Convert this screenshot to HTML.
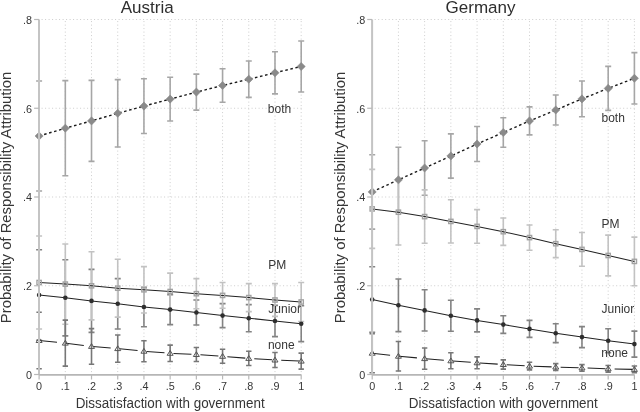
<!DOCTYPE html>
<html><head><meta charset="utf-8"><style>
html,body{margin:0;padding:0;background:#fff;}
svg{display:block;font-family:"Liberation Sans",sans-serif;filter:blur(0.3px);}
</style></head><body>
<svg width="640" height="412" viewBox="0 0 640 412">
<rect width="640" height="412" fill="#fff"/>
<line x1="41.6" y1="285.75" x2="301.7" y2="285.75" stroke="#cdcdcd" stroke-width="1" stroke-dasharray="1 2.5"/>
<line x1="41.6" y1="197" x2="301.7" y2="197" stroke="#cdcdcd" stroke-width="1" stroke-dasharray="1 2.5"/>
<line x1="41.6" y1="108.25" x2="301.7" y2="108.25" stroke="#cdcdcd" stroke-width="1" stroke-dasharray="1 2.5"/>
<line x1="41.6" y1="19.5" x2="301.7" y2="19.5" stroke="#cdcdcd" stroke-width="1" stroke-dasharray="1 2.5"/>
<line x1="65.31" y1="21.1" x2="65.31" y2="373.5" stroke="#cdcdcd" stroke-width="1" stroke-dasharray="1 2.5"/>
<line x1="91.52" y1="21.1" x2="91.52" y2="373.5" stroke="#cdcdcd" stroke-width="1" stroke-dasharray="1 2.5"/>
<line x1="117.73" y1="21.1" x2="117.73" y2="373.5" stroke="#cdcdcd" stroke-width="1" stroke-dasharray="1 2.5"/>
<line x1="143.94" y1="21.1" x2="143.94" y2="373.5" stroke="#cdcdcd" stroke-width="1" stroke-dasharray="1 2.5"/>
<line x1="170.15" y1="21.1" x2="170.15" y2="373.5" stroke="#cdcdcd" stroke-width="1" stroke-dasharray="1 2.5"/>
<line x1="196.36" y1="21.1" x2="196.36" y2="373.5" stroke="#cdcdcd" stroke-width="1" stroke-dasharray="1 2.5"/>
<line x1="222.57" y1="21.1" x2="222.57" y2="373.5" stroke="#cdcdcd" stroke-width="1" stroke-dasharray="1 2.5"/>
<line x1="248.78" y1="21.1" x2="248.78" y2="373.5" stroke="#cdcdcd" stroke-width="1" stroke-dasharray="1 2.5"/>
<line x1="274.99" y1="21.1" x2="274.99" y2="373.5" stroke="#cdcdcd" stroke-width="1" stroke-dasharray="1 2.5"/>
<line x1="301.2" y1="21.1" x2="301.2" y2="373.5" stroke="#cdcdcd" stroke-width="1" stroke-dasharray="1 2.5"/>
<path d="M39.1 81V191M36.1 81H42.1M36.1 191H42.1" stroke="#a6a6a6" stroke-width="1.6" fill="none"/>
<path d="M65.31 80.6V175.8M62.31 80.6H68.31M62.31 175.8H68.31" stroke="#a6a6a6" stroke-width="1.6" fill="none"/>
<path d="M91.52 80.4V161.4M88.52 80.4H94.52M88.52 161.4H94.52" stroke="#a6a6a6" stroke-width="1.6" fill="none"/>
<path d="M117.73 79.6V147M114.73 79.6H120.73M114.73 147H120.73" stroke="#a6a6a6" stroke-width="1.6" fill="none"/>
<path d="M143.94 78.7V133.5M140.94 78.7H146.94M140.94 133.5H146.94" stroke="#a6a6a6" stroke-width="1.6" fill="none"/>
<path d="M170.15 77.2V121M167.15 77.2H173.15M167.15 121H173.15" stroke="#a6a6a6" stroke-width="1.6" fill="none"/>
<path d="M196.36 74.1V110.1M193.36 74.1H199.36M193.36 110.1H199.36" stroke="#a6a6a6" stroke-width="1.6" fill="none"/>
<path d="M222.57 68.8V102.2M219.57 68.8H225.57M219.57 102.2H225.57" stroke="#a6a6a6" stroke-width="1.6" fill="none"/>
<path d="M248.78 61V97.4M245.78 61H251.78M245.78 97.4H251.78" stroke="#a6a6a6" stroke-width="1.6" fill="none"/>
<path d="M274.99 51.7V93.9M271.99 51.7H277.99M271.99 93.9H277.99" stroke="#a6a6a6" stroke-width="1.6" fill="none"/>
<path d="M301.2 41V92M298.2 41H304.2M298.2 92H304.2" stroke="#a6a6a6" stroke-width="1.6" fill="none"/>
<path d="M39.1 249.7V340.3M36.1 249.7H42.1M36.1 340.3H42.1" stroke="#838383" stroke-width="1.6" fill="none"/>
<path d="M65.31 259.7V335.9M62.31 259.7H68.31M62.31 335.9H68.31" stroke="#838383" stroke-width="1.6" fill="none"/>
<path d="M91.52 269.4V332.4M88.52 269.4H94.52M88.52 332.4H94.52" stroke="#838383" stroke-width="1.6" fill="none"/>
<path d="M117.73 278.6V329M114.73 278.6H120.73M114.73 329H120.73" stroke="#838383" stroke-width="1.6" fill="none"/>
<path d="M143.94 287.3V326.7M140.94 287.3H146.94M140.94 326.7H146.94" stroke="#838383" stroke-width="1.6" fill="none"/>
<path d="M170.15 294.6V324.6M167.15 294.6H173.15M167.15 324.6H173.15" stroke="#838383" stroke-width="1.6" fill="none"/>
<path d="M196.36 300V325M193.36 300H199.36M193.36 325H199.36" stroke="#838383" stroke-width="1.6" fill="none"/>
<path d="M222.57 303.6V327.6M219.57 303.6H225.57M219.57 327.6H225.57" stroke="#838383" stroke-width="1.6" fill="none"/>
<path d="M248.78 304.6V331.8M245.78 304.6H251.78M245.78 331.8H251.78" stroke="#838383" stroke-width="1.6" fill="none"/>
<path d="M274.99 305.4V336.6M271.99 305.4H277.99M271.99 336.6H277.99" stroke="#838383" stroke-width="1.6" fill="none"/>
<path d="M301.2 305.8V341.6M298.2 305.8H304.2M298.2 341.6H304.2" stroke="#838383" stroke-width="1.6" fill="none"/>
<path d="M39.1 236V329M36.1 236H42.1M36.1 329H42.1" stroke="#c2c2c2" stroke-width="1.6" fill="none"/>
<path d="M65.31 244V324.2M62.31 244H68.31M62.31 324.2H68.31" stroke="#c2c2c2" stroke-width="1.6" fill="none"/>
<path d="M91.52 251.7V319.9M88.52 251.7H94.52M88.52 319.9H94.52" stroke="#c2c2c2" stroke-width="1.6" fill="none"/>
<path d="M117.73 259.3V317.1M114.73 259.3H120.73M114.73 317.1H120.73" stroke="#c2c2c2" stroke-width="1.6" fill="none"/>
<path d="M143.94 266.6V313M140.94 266.6H146.94M140.94 313H146.94" stroke="#c2c2c2" stroke-width="1.6" fill="none"/>
<path d="M170.15 273.1V309.9M167.15 273.1H173.15M167.15 309.9H173.15" stroke="#c2c2c2" stroke-width="1.6" fill="none"/>
<path d="M196.36 278.6V308.8M193.36 278.6H199.36M193.36 308.8H199.36" stroke="#c2c2c2" stroke-width="1.6" fill="none"/>
<path d="M222.57 282.5V308.3M219.57 282.5H225.57M219.57 308.3H225.57" stroke="#c2c2c2" stroke-width="1.6" fill="none"/>
<path d="M248.78 283.6V311.6M245.78 283.6H251.78M245.78 311.6H251.78" stroke="#c2c2c2" stroke-width="1.6" fill="none"/>
<path d="M274.99 283.6V316.4M271.99 283.6H277.99M271.99 316.4H277.99" stroke="#c2c2c2" stroke-width="1.6" fill="none"/>
<path d="M301.2 282.5V321.5M298.2 282.5H304.2M298.2 321.5H304.2" stroke="#c2c2c2" stroke-width="1.6" fill="none"/>
<path d="M39.1 312.2V368.8M36.4 312.2H41.8M36.4 368.8H41.8" stroke="#777777" stroke-width="1.6" fill="none"/>
<path d="M65.31 320.1V366.1M62.61 320.1H68.01M62.61 366.1H68.01" stroke="#777777" stroke-width="1.6" fill="none"/>
<path d="M91.52 328.6V364.2M88.82 328.6H94.22M88.82 364.2H94.22" stroke="#777777" stroke-width="1.6" fill="none"/>
<path d="M117.73 335V362.2M115.03 335H120.43M115.03 362.2H120.43" stroke="#777777" stroke-width="1.6" fill="none"/>
<path d="M143.94 340.7V361.7M141.24 340.7H146.64M141.24 361.7H146.64" stroke="#777777" stroke-width="1.6" fill="none"/>
<path d="M170.15 345.1V361.5M167.45 345.1H172.85M167.45 361.5H172.85" stroke="#777777" stroke-width="1.6" fill="none"/>
<path d="M196.36 347.5V361.5M193.66 347.5H199.06M193.66 361.5H199.06" stroke="#777777" stroke-width="1.6" fill="none"/>
<path d="M222.57 349.3V363.3M219.87 349.3H225.27M219.87 363.3H225.27" stroke="#777777" stroke-width="1.6" fill="none"/>
<path d="M248.78 351.3V365.5M246.08 351.3H251.48M246.08 365.5H251.48" stroke="#777777" stroke-width="1.6" fill="none"/>
<path d="M274.99 352.5V367.5M272.29 352.5H277.69M272.29 367.5H277.69" stroke="#777777" stroke-width="1.6" fill="none"/>
<path d="M301.2 353.1V369.1M298.5 353.1H303.9M298.5 369.1H303.9" stroke="#777777" stroke-width="1.6" fill="none"/>
<polyline points="39.1,136 65.31,128.2 91.52,120.9 117.73,113.3 143.94,106.1 170.15,99.1 196.36,92.1 222.57,85.5 248.78,79.2 274.99,72.8 301.2,66.5" fill="none" stroke="#1a1a1a" stroke-width="1.4" stroke-dasharray="2.6 2.6"/>
<polyline points="39.1,282.5 65.31,284.1 91.52,285.8 117.73,288.2 143.94,289.8 170.15,291.5 196.36,293.7 222.57,295.4 248.78,297.6 274.99,300 301.2,302" fill="none" stroke="#222" stroke-width="1.05"/>
<polyline points="39.1,295 65.31,297.8 91.52,300.9 117.73,303.8 143.94,307 170.15,309.6 196.36,312.5 222.57,315.6 248.78,318.2 274.99,321 301.2,323.7" fill="none" stroke="#222" stroke-width="1.05"/>
<polyline points="39.1,340.5 65.31,343.1 91.52,346.4 117.73,348.6 143.94,351.2 170.15,353.3 196.36,354.5 222.57,356.3 248.78,358.4 274.99,360 301.2,361.1" fill="none" stroke="#222" stroke-width="1.05" stroke-dasharray="18 9"/>
<path d="M39.1 131.95L43.15 136L39.1 140.05L35.05 136Z" fill="#8a8a8a" stroke="#8a8a8a" stroke-width="0.6"/>
<rect x="36.95" y="280.35" width="4.3" height="4.3" fill="none" stroke="#a2a2a2" stroke-width="1.35"/>
<circle cx="39.1" cy="295" r="2.3" fill="#2e2e2e"/>
<path d="M39.1 337.7L42.1 342.5L36.1 342.5Z" fill="none" stroke="#555" stroke-width="1"/>
<path d="M65.31 124.15L69.36 128.2L65.31 132.25L61.26 128.2Z" fill="#8a8a8a" stroke="#8a8a8a" stroke-width="0.6"/>
<rect x="63.16" y="281.95" width="4.3" height="4.3" fill="none" stroke="#a2a2a2" stroke-width="1.35"/>
<circle cx="65.31" cy="297.8" r="2.3" fill="#2e2e2e"/>
<path d="M65.31 340.3L68.31 345.1L62.31 345.1Z" fill="none" stroke="#555" stroke-width="1"/>
<path d="M91.52 116.85L95.57 120.9L91.52 124.95L87.47 120.9Z" fill="#8a8a8a" stroke="#8a8a8a" stroke-width="0.6"/>
<rect x="89.37" y="283.65" width="4.3" height="4.3" fill="none" stroke="#a2a2a2" stroke-width="1.35"/>
<circle cx="91.52" cy="300.9" r="2.3" fill="#2e2e2e"/>
<path d="M91.52 343.6L94.52 348.4L88.52 348.4Z" fill="none" stroke="#555" stroke-width="1"/>
<path d="M117.73 109.25L121.78 113.3L117.73 117.35L113.68 113.3Z" fill="#8a8a8a" stroke="#8a8a8a" stroke-width="0.6"/>
<rect x="115.58" y="286.05" width="4.3" height="4.3" fill="none" stroke="#a2a2a2" stroke-width="1.35"/>
<circle cx="117.73" cy="303.8" r="2.3" fill="#2e2e2e"/>
<path d="M117.73 345.8L120.73 350.6L114.73 350.6Z" fill="none" stroke="#555" stroke-width="1"/>
<path d="M143.94 102.05L147.99 106.1L143.94 110.15L139.89 106.1Z" fill="#8a8a8a" stroke="#8a8a8a" stroke-width="0.6"/>
<rect x="141.79" y="287.65" width="4.3" height="4.3" fill="none" stroke="#a2a2a2" stroke-width="1.35"/>
<circle cx="143.94" cy="307" r="2.3" fill="#2e2e2e"/>
<path d="M143.94 348.4L146.94 353.2L140.94 353.2Z" fill="none" stroke="#555" stroke-width="1"/>
<path d="M170.15 95.05L174.2 99.1L170.15 103.15L166.1 99.1Z" fill="#8a8a8a" stroke="#8a8a8a" stroke-width="0.6"/>
<rect x="168" y="289.35" width="4.3" height="4.3" fill="none" stroke="#a2a2a2" stroke-width="1.35"/>
<circle cx="170.15" cy="309.6" r="2.3" fill="#2e2e2e"/>
<path d="M170.15 350.5L173.15 355.3L167.15 355.3Z" fill="none" stroke="#555" stroke-width="1"/>
<path d="M196.36 88.05L200.41 92.1L196.36 96.15L192.31 92.1Z" fill="#8a8a8a" stroke="#8a8a8a" stroke-width="0.6"/>
<rect x="194.21" y="291.55" width="4.3" height="4.3" fill="none" stroke="#a2a2a2" stroke-width="1.35"/>
<circle cx="196.36" cy="312.5" r="2.3" fill="#2e2e2e"/>
<path d="M196.36 351.7L199.36 356.5L193.36 356.5Z" fill="none" stroke="#555" stroke-width="1"/>
<path d="M222.57 81.45L226.62 85.5L222.57 89.55L218.52 85.5Z" fill="#8a8a8a" stroke="#8a8a8a" stroke-width="0.6"/>
<rect x="220.42" y="293.25" width="4.3" height="4.3" fill="none" stroke="#a2a2a2" stroke-width="1.35"/>
<circle cx="222.57" cy="315.6" r="2.3" fill="#2e2e2e"/>
<path d="M222.57 353.5L225.57 358.3L219.57 358.3Z" fill="none" stroke="#555" stroke-width="1"/>
<path d="M248.78 75.15L252.83 79.2L248.78 83.25L244.73 79.2Z" fill="#8a8a8a" stroke="#8a8a8a" stroke-width="0.6"/>
<rect x="246.63" y="295.45" width="4.3" height="4.3" fill="none" stroke="#a2a2a2" stroke-width="1.35"/>
<circle cx="248.78" cy="318.2" r="2.3" fill="#2e2e2e"/>
<path d="M248.78 355.6L251.78 360.4L245.78 360.4Z" fill="none" stroke="#555" stroke-width="1"/>
<path d="M274.99 68.75L279.04 72.8L274.99 76.85L270.94 72.8Z" fill="#8a8a8a" stroke="#8a8a8a" stroke-width="0.6"/>
<rect x="272.84" y="297.85" width="4.3" height="4.3" fill="none" stroke="#a2a2a2" stroke-width="1.35"/>
<circle cx="274.99" cy="321" r="2.3" fill="#2e2e2e"/>
<path d="M274.99 357.2L277.99 362L271.99 362Z" fill="none" stroke="#555" stroke-width="1"/>
<path d="M301.2 62.45L305.25 66.5L301.2 70.55L297.15 66.5Z" fill="#8a8a8a" stroke="#8a8a8a" stroke-width="0.6"/>
<rect x="299.05" y="299.85" width="4.3" height="4.3" fill="none" stroke="#a2a2a2" stroke-width="1.35"/>
<circle cx="301.2" cy="323.7" r="2.3" fill="#2e2e2e"/>
<path d="M301.2 358.3L304.2 363.1L298.2 363.1Z" fill="none" stroke="#555" stroke-width="1"/>
<line x1="39" y1="19.5" x2="39" y2="374.8" stroke="#c4c4c4" stroke-width="2"/>
<line x1="39.1" y1="374.8" x2="301.2" y2="374.8" stroke="#b6b6b6" stroke-width="1.7"/>
<line x1="34.1" y1="374.5" x2="39.1" y2="374.5" stroke="#b8b8b8" stroke-width="1.2"/>
<text transform="translate(32.1,378.8) scale(1,1)" font-size="10.8" text-anchor="end" fill="#363636">0</text>
<line x1="34.1" y1="285.75" x2="39.1" y2="285.75" stroke="#b8b8b8" stroke-width="1.2"/>
<text transform="translate(32.1,290.05) scale(1,1)" font-size="10.8" text-anchor="end" fill="#363636">.2</text>
<line x1="34.1" y1="197" x2="39.1" y2="197" stroke="#b8b8b8" stroke-width="1.2"/>
<text transform="translate(32.1,201.3) scale(1,1)" font-size="10.8" text-anchor="end" fill="#363636">.4</text>
<line x1="34.1" y1="108.25" x2="39.1" y2="108.25" stroke="#b8b8b8" stroke-width="1.2"/>
<text transform="translate(32.1,112.55) scale(1,1)" font-size="10.8" text-anchor="end" fill="#363636">.6</text>
<line x1="34.1" y1="19.5" x2="39.1" y2="19.5" stroke="#b8b8b8" stroke-width="1.2"/>
<text transform="translate(32.1,23.8) scale(1,1)" font-size="10.8" text-anchor="end" fill="#363636">.8</text>
<line x1="39.1" y1="374.5" x2="39.1" y2="379.5" stroke="#b8b8b8" stroke-width="1.2"/>
<text transform="translate(39.1,389.7) scale(1,1)" font-size="10.8" text-anchor="middle" fill="#363636">0</text>
<line x1="65.31" y1="374.5" x2="65.31" y2="379.5" stroke="#b8b8b8" stroke-width="1.2"/>
<text transform="translate(65.31,389.7) scale(1,1)" font-size="10.8" text-anchor="middle" fill="#363636">.1</text>
<line x1="91.52" y1="374.5" x2="91.52" y2="379.5" stroke="#b8b8b8" stroke-width="1.2"/>
<text transform="translate(91.52,389.7) scale(1,1)" font-size="10.8" text-anchor="middle" fill="#363636">.2</text>
<line x1="117.73" y1="374.5" x2="117.73" y2="379.5" stroke="#b8b8b8" stroke-width="1.2"/>
<text transform="translate(117.73,389.7) scale(1,1)" font-size="10.8" text-anchor="middle" fill="#363636">.3</text>
<line x1="143.94" y1="374.5" x2="143.94" y2="379.5" stroke="#b8b8b8" stroke-width="1.2"/>
<text transform="translate(143.94,389.7) scale(1,1)" font-size="10.8" text-anchor="middle" fill="#363636">.4</text>
<line x1="170.15" y1="374.5" x2="170.15" y2="379.5" stroke="#b8b8b8" stroke-width="1.2"/>
<text transform="translate(170.15,389.7) scale(1,1)" font-size="10.8" text-anchor="middle" fill="#363636">.5</text>
<line x1="196.36" y1="374.5" x2="196.36" y2="379.5" stroke="#b8b8b8" stroke-width="1.2"/>
<text transform="translate(196.36,389.7) scale(1,1)" font-size="10.8" text-anchor="middle" fill="#363636">.6</text>
<line x1="222.57" y1="374.5" x2="222.57" y2="379.5" stroke="#b8b8b8" stroke-width="1.2"/>
<text transform="translate(222.57,389.7) scale(1,1)" font-size="10.8" text-anchor="middle" fill="#363636">.7</text>
<line x1="248.78" y1="374.5" x2="248.78" y2="379.5" stroke="#b8b8b8" stroke-width="1.2"/>
<text transform="translate(248.78,389.7) scale(1,1)" font-size="10.8" text-anchor="middle" fill="#363636">.8</text>
<line x1="274.99" y1="374.5" x2="274.99" y2="379.5" stroke="#b8b8b8" stroke-width="1.2"/>
<text transform="translate(274.99,389.7) scale(1,1)" font-size="10.8" text-anchor="middle" fill="#363636">.9</text>
<line x1="301.2" y1="374.5" x2="301.2" y2="379.5" stroke="#b8b8b8" stroke-width="1.2"/>
<text transform="translate(301.2,389.7) scale(1,1)" font-size="10.8" text-anchor="middle" fill="#363636">1</text>
<text transform="translate(147.2,13.2) scale(0.99,1)" font-size="17.2" text-anchor="middle" fill="#2e2e2e">Austria</text>
<text transform="translate(170.15,407.7) scale(0.928,1)" font-size="14.5" text-anchor="middle" fill="#363636">Dissatisfaction with government</text>
<text transform="translate(10.9,197.5) rotate(-90) scale(1.024,1)" font-size="14.5" text-anchor="middle" fill="#363636">Probability of Responsibility Attribution</text>
<text transform="translate(267.8,112.9) scale(0.925,1)" font-size="13" text-anchor="start" fill="#363636">both</text>
<text transform="translate(268.3,268.6) scale(0.925,1)" font-size="13" text-anchor="start" fill="#363636">PM</text>
<text transform="translate(268.3,312.9) scale(0.925,1)" font-size="13" text-anchor="start" fill="#363636">Junior</text>
<text transform="translate(267.9,349.4) scale(0.925,1)" font-size="13" text-anchor="start" fill="#363636">none</text>
<line x1="374.7" y1="285.75" x2="634.9" y2="285.75" stroke="#cdcdcd" stroke-width="1" stroke-dasharray="1 2.5"/>
<line x1="374.7" y1="197" x2="634.9" y2="197" stroke="#cdcdcd" stroke-width="1" stroke-dasharray="1 2.5"/>
<line x1="374.7" y1="108.25" x2="634.9" y2="108.25" stroke="#cdcdcd" stroke-width="1" stroke-dasharray="1 2.5"/>
<line x1="374.7" y1="19.5" x2="634.9" y2="19.5" stroke="#cdcdcd" stroke-width="1" stroke-dasharray="1 2.5"/>
<line x1="398.42" y1="21.1" x2="398.42" y2="373.5" stroke="#cdcdcd" stroke-width="1" stroke-dasharray="1 2.5"/>
<line x1="424.64" y1="21.1" x2="424.64" y2="373.5" stroke="#cdcdcd" stroke-width="1" stroke-dasharray="1 2.5"/>
<line x1="450.86" y1="21.1" x2="450.86" y2="373.5" stroke="#cdcdcd" stroke-width="1" stroke-dasharray="1 2.5"/>
<line x1="477.08" y1="21.1" x2="477.08" y2="373.5" stroke="#cdcdcd" stroke-width="1" stroke-dasharray="1 2.5"/>
<line x1="503.3" y1="21.1" x2="503.3" y2="373.5" stroke="#cdcdcd" stroke-width="1" stroke-dasharray="1 2.5"/>
<line x1="529.52" y1="21.1" x2="529.52" y2="373.5" stroke="#cdcdcd" stroke-width="1" stroke-dasharray="1 2.5"/>
<line x1="555.74" y1="21.1" x2="555.74" y2="373.5" stroke="#cdcdcd" stroke-width="1" stroke-dasharray="1 2.5"/>
<line x1="581.96" y1="21.1" x2="581.96" y2="373.5" stroke="#cdcdcd" stroke-width="1" stroke-dasharray="1 2.5"/>
<line x1="608.18" y1="21.1" x2="608.18" y2="373.5" stroke="#cdcdcd" stroke-width="1" stroke-dasharray="1 2.5"/>
<line x1="634.4" y1="21.1" x2="634.4" y2="373.5" stroke="#cdcdcd" stroke-width="1" stroke-dasharray="1 2.5"/>
<path d="M372.2 154.7V229.1M369.2 154.7H375.2M369.2 229.1H375.2" stroke="#a6a6a6" stroke-width="1.6" fill="none"/>
<path d="M398.42 147.3V212.3M395.42 147.3H401.42M395.42 212.3H401.42" stroke="#a6a6a6" stroke-width="1.6" fill="none"/>
<path d="M424.64 140.7V195.3M421.64 140.7H427.64M421.64 195.3H427.64" stroke="#a6a6a6" stroke-width="1.6" fill="none"/>
<path d="M450.86 133.9V178.1M447.86 133.9H453.86M447.86 178.1H453.86" stroke="#a6a6a6" stroke-width="1.6" fill="none"/>
<path d="M477.08 126.5V161.5M474.08 126.5H480.08M474.08 161.5H480.08" stroke="#a6a6a6" stroke-width="1.6" fill="none"/>
<path d="M503.3 117.8V147.2M500.3 117.8H506.3M500.3 147.2H506.3" stroke="#a6a6a6" stroke-width="1.6" fill="none"/>
<path d="M529.52 106.9V134.9M526.52 106.9H532.52M526.52 134.9H532.52" stroke="#a6a6a6" stroke-width="1.6" fill="none"/>
<path d="M555.74 95V125M552.74 95H558.74M552.74 125H558.74" stroke="#a6a6a6" stroke-width="1.6" fill="none"/>
<path d="M581.96 81V116.8M578.96 81H584.96M578.96 116.8H584.96" stroke="#a6a6a6" stroke-width="1.6" fill="none"/>
<path d="M608.18 66.4V110.4M605.18 66.4H611.18M605.18 110.4H611.18" stroke="#a6a6a6" stroke-width="1.6" fill="none"/>
<path d="M634.4 52.6V104M631.4 52.6H637.4M631.4 104H637.4" stroke="#a6a6a6" stroke-width="1.6" fill="none"/>
<path d="M372.2 266.7V332.3M369.2 266.7H375.2M369.2 332.3H375.2" stroke="#838383" stroke-width="1.6" fill="none"/>
<path d="M398.42 279V331.6M395.42 279H401.42M395.42 331.6H401.42" stroke="#838383" stroke-width="1.6" fill="none"/>
<path d="M424.64 289.8V331M421.64 289.8H427.64M421.64 331H427.64" stroke="#838383" stroke-width="1.6" fill="none"/>
<path d="M450.86 300.2V331.2M447.86 300.2H453.86M447.86 331.2H453.86" stroke="#838383" stroke-width="1.6" fill="none"/>
<path d="M477.08 308.9V331.9M474.08 308.9H480.08M474.08 331.9H480.08" stroke="#838383" stroke-width="1.6" fill="none"/>
<path d="M503.3 315.8V333.4M500.3 315.8H506.3M500.3 333.4H506.3" stroke="#838383" stroke-width="1.6" fill="none"/>
<path d="M529.52 320.4V337.4M526.52 320.4H532.52M526.52 337.4H532.52" stroke="#838383" stroke-width="1.6" fill="none"/>
<path d="M555.74 323.8V342.6M552.74 323.8H558.74M552.74 342.6H558.74" stroke="#838383" stroke-width="1.6" fill="none"/>
<path d="M581.96 326.6V347.6M578.96 326.6H584.96M578.96 347.6H584.96" stroke="#838383" stroke-width="1.6" fill="none"/>
<path d="M608.18 328.8V352.8M605.18 328.8H611.18M605.18 352.8H611.18" stroke="#838383" stroke-width="1.6" fill="none"/>
<path d="M634.4 331.1V357.1M631.4 331.1H637.4M631.4 357.1H637.4" stroke="#838383" stroke-width="1.6" fill="none"/>
<path d="M372.2 169.4V248.4M369.2 169.4H375.2M369.2 248.4H375.2" stroke="#c2c2c2" stroke-width="1.6" fill="none"/>
<path d="M398.42 179.4V245M395.42 179.4H401.42M395.42 245H401.42" stroke="#c2c2c2" stroke-width="1.6" fill="none"/>
<path d="M424.64 189.9V243.3M421.64 189.9H427.64M421.64 243.3H427.64" stroke="#c2c2c2" stroke-width="1.6" fill="none"/>
<path d="M450.86 199.8V243M447.86 199.8H453.86M447.86 243H453.86" stroke="#c2c2c2" stroke-width="1.6" fill="none"/>
<path d="M477.08 209.6V243.2M474.08 209.6H480.08M474.08 243.2H480.08" stroke="#c2c2c2" stroke-width="1.6" fill="none"/>
<path d="M503.3 218V245.4M500.3 218H506.3M500.3 245.4H506.3" stroke="#c2c2c2" stroke-width="1.6" fill="none"/>
<path d="M529.52 225V250.2M526.52 225H532.52M526.52 250.2H532.52" stroke="#c2c2c2" stroke-width="1.6" fill="none"/>
<path d="M555.74 229.8V257.6M552.74 229.8H558.74M552.74 257.6H558.74" stroke="#c2c2c2" stroke-width="1.6" fill="none"/>
<path d="M581.96 232.5V266.3M578.96 232.5H584.96M578.96 266.3H584.96" stroke="#c2c2c2" stroke-width="1.6" fill="none"/>
<path d="M608.18 235.1V275.9M605.18 235.1H611.18M605.18 275.9H611.18" stroke="#c2c2c2" stroke-width="1.6" fill="none"/>
<path d="M634.4 237.1V285.7M631.4 237.1H637.4M631.4 285.7H637.4" stroke="#c2c2c2" stroke-width="1.6" fill="none"/>
<path d="M372.2 333.7V372.7M369.5 333.7H374.9M369.5 372.7H374.9" stroke="#777777" stroke-width="1.6" fill="none"/>
<path d="M398.42 341.45V370.95M395.72 341.45H401.12M395.72 370.95H401.12" stroke="#777777" stroke-width="1.6" fill="none"/>
<path d="M424.64 348V369.2M421.94 348H427.34M421.94 369.2H427.34" stroke="#777777" stroke-width="1.6" fill="none"/>
<path d="M450.86 352.8V368.8M448.16 352.8H453.56M448.16 368.8H453.56" stroke="#777777" stroke-width="1.6" fill="none"/>
<path d="M477.08 356.9V368.7M474.38 356.9H479.78M474.38 368.7H479.78" stroke="#777777" stroke-width="1.6" fill="none"/>
<path d="M503.3 359.9V369.1M500.6 359.9H506M500.6 369.1H506" stroke="#777777" stroke-width="1.6" fill="none"/>
<path d="M529.52 362.3V369.9M526.82 362.3H532.22M526.82 369.9H532.22" stroke="#777777" stroke-width="1.6" fill="none"/>
<path d="M555.74 363.6V370.4M553.04 363.6H558.44M553.04 370.4H558.44" stroke="#777777" stroke-width="1.6" fill="none"/>
<path d="M581.96 364.6V371.2M579.26 364.6H584.66M579.26 371.2H584.66" stroke="#777777" stroke-width="1.6" fill="none"/>
<path d="M608.18 365.5V372.1M605.48 365.5H610.88M605.48 372.1H610.88" stroke="#777777" stroke-width="1.6" fill="none"/>
<path d="M634.4 366V372.8M631.7 366H637.1M631.7 372.8H637.1" stroke="#777777" stroke-width="1.6" fill="none"/>
<polyline points="372.2,191.9 398.42,179.8 424.64,168 450.86,156 477.08,144 503.3,132.5 529.52,120.9 555.74,110 581.96,98.9 608.18,88.4 634.4,78.3" fill="none" stroke="#1a1a1a" stroke-width="1.4" stroke-dasharray="2.6 2.6"/>
<polyline points="372.2,208.9 398.42,212.2 424.64,216.6 450.86,221.4 477.08,226.4 503.3,231.7 529.52,237.6 555.74,243.7 581.96,249.4 608.18,255.5 634.4,261.4" fill="none" stroke="#222" stroke-width="1.05"/>
<polyline points="372.2,299.5 398.42,305.3 424.64,310.4 450.86,315.7 477.08,320.4 503.3,324.6 529.52,328.9 555.74,333.2 581.96,337.1 608.18,340.8 634.4,344.1" fill="none" stroke="#222" stroke-width="1.05"/>
<polyline points="372.2,353.2 398.42,356.2 424.64,358.6 450.86,360.8 477.08,362.8 503.3,364.5 529.52,366.1 555.74,367 581.96,367.9 608.18,368.8 634.4,369.4" fill="none" stroke="#222" stroke-width="1.05" stroke-dasharray="18 9"/>
<path d="M372.2 187.85L376.25 191.9L372.2 195.95L368.15 191.9Z" fill="#8a8a8a" stroke="#8a8a8a" stroke-width="0.6"/>
<rect x="370.05" y="206.75" width="4.3" height="4.3" fill="none" stroke="#a2a2a2" stroke-width="1.35"/>
<circle cx="372.2" cy="299.5" r="2.3" fill="#2e2e2e"/>
<path d="M372.2 350.4L375.2 355.2L369.2 355.2Z" fill="none" stroke="#555" stroke-width="1"/>
<path d="M398.42 175.75L402.47 179.8L398.42 183.85L394.37 179.8Z" fill="#8a8a8a" stroke="#8a8a8a" stroke-width="0.6"/>
<rect x="396.27" y="210.05" width="4.3" height="4.3" fill="none" stroke="#a2a2a2" stroke-width="1.35"/>
<circle cx="398.42" cy="305.3" r="2.3" fill="#2e2e2e"/>
<path d="M398.42 353.4L401.42 358.2L395.42 358.2Z" fill="none" stroke="#555" stroke-width="1"/>
<path d="M424.64 163.95L428.69 168L424.64 172.05L420.59 168Z" fill="#8a8a8a" stroke="#8a8a8a" stroke-width="0.6"/>
<rect x="422.49" y="214.45" width="4.3" height="4.3" fill="none" stroke="#a2a2a2" stroke-width="1.35"/>
<circle cx="424.64" cy="310.4" r="2.3" fill="#2e2e2e"/>
<path d="M424.64 355.8L427.64 360.6L421.64 360.6Z" fill="none" stroke="#555" stroke-width="1"/>
<path d="M450.86 151.95L454.91 156L450.86 160.05L446.81 156Z" fill="#8a8a8a" stroke="#8a8a8a" stroke-width="0.6"/>
<rect x="448.71" y="219.25" width="4.3" height="4.3" fill="none" stroke="#a2a2a2" stroke-width="1.35"/>
<circle cx="450.86" cy="315.7" r="2.3" fill="#2e2e2e"/>
<path d="M450.86 358L453.86 362.8L447.86 362.8Z" fill="none" stroke="#555" stroke-width="1"/>
<path d="M477.08 139.95L481.13 144L477.08 148.05L473.03 144Z" fill="#8a8a8a" stroke="#8a8a8a" stroke-width="0.6"/>
<rect x="474.93" y="224.25" width="4.3" height="4.3" fill="none" stroke="#a2a2a2" stroke-width="1.35"/>
<circle cx="477.08" cy="320.4" r="2.3" fill="#2e2e2e"/>
<path d="M477.08 360L480.08 364.8L474.08 364.8Z" fill="none" stroke="#555" stroke-width="1"/>
<path d="M503.3 128.45L507.35 132.5L503.3 136.55L499.25 132.5Z" fill="#8a8a8a" stroke="#8a8a8a" stroke-width="0.6"/>
<rect x="501.15" y="229.55" width="4.3" height="4.3" fill="none" stroke="#a2a2a2" stroke-width="1.35"/>
<circle cx="503.3" cy="324.6" r="2.3" fill="#2e2e2e"/>
<path d="M503.3 361.7L506.3 366.5L500.3 366.5Z" fill="none" stroke="#555" stroke-width="1"/>
<path d="M529.52 116.85L533.57 120.9L529.52 124.95L525.47 120.9Z" fill="#8a8a8a" stroke="#8a8a8a" stroke-width="0.6"/>
<rect x="527.37" y="235.45" width="4.3" height="4.3" fill="none" stroke="#a2a2a2" stroke-width="1.35"/>
<circle cx="529.52" cy="328.9" r="2.3" fill="#2e2e2e"/>
<path d="M529.52 363.3L532.52 368.1L526.52 368.1Z" fill="none" stroke="#555" stroke-width="1"/>
<path d="M555.74 105.95L559.79 110L555.74 114.05L551.69 110Z" fill="#8a8a8a" stroke="#8a8a8a" stroke-width="0.6"/>
<rect x="553.59" y="241.55" width="4.3" height="4.3" fill="none" stroke="#a2a2a2" stroke-width="1.35"/>
<circle cx="555.74" cy="333.2" r="2.3" fill="#2e2e2e"/>
<path d="M555.74 364.2L558.74 369L552.74 369Z" fill="none" stroke="#555" stroke-width="1"/>
<path d="M581.96 94.85L586.01 98.9L581.96 102.95L577.91 98.9Z" fill="#8a8a8a" stroke="#8a8a8a" stroke-width="0.6"/>
<rect x="579.81" y="247.25" width="4.3" height="4.3" fill="none" stroke="#a2a2a2" stroke-width="1.35"/>
<circle cx="581.96" cy="337.1" r="2.3" fill="#2e2e2e"/>
<path d="M581.96 365.1L584.96 369.9L578.96 369.9Z" fill="none" stroke="#555" stroke-width="1"/>
<path d="M608.18 84.35L612.23 88.4L608.18 92.45L604.13 88.4Z" fill="#8a8a8a" stroke="#8a8a8a" stroke-width="0.6"/>
<rect x="606.03" y="253.35" width="4.3" height="4.3" fill="none" stroke="#a2a2a2" stroke-width="1.35"/>
<circle cx="608.18" cy="340.8" r="2.3" fill="#2e2e2e"/>
<path d="M608.18 366L611.18 370.8L605.18 370.8Z" fill="none" stroke="#555" stroke-width="1"/>
<path d="M634.4 74.25L638.45 78.3L634.4 82.35L630.35 78.3Z" fill="#8a8a8a" stroke="#8a8a8a" stroke-width="0.6"/>
<rect x="632.25" y="259.25" width="4.3" height="4.3" fill="none" stroke="#a2a2a2" stroke-width="1.35"/>
<circle cx="634.4" cy="344.1" r="2.3" fill="#2e2e2e"/>
<path d="M634.4 366.6L637.4 371.4L631.4 371.4Z" fill="none" stroke="#555" stroke-width="1"/>
<line x1="372.1" y1="19.5" x2="372.1" y2="374.8" stroke="#c4c4c4" stroke-width="2"/>
<line x1="372.2" y1="374.8" x2="634.4" y2="374.8" stroke="#b6b6b6" stroke-width="1.7"/>
<line x1="367.2" y1="374.5" x2="372.2" y2="374.5" stroke="#b8b8b8" stroke-width="1.2"/>
<text transform="translate(365.2,378.8) scale(1,1)" font-size="10.8" text-anchor="end" fill="#363636">0</text>
<line x1="367.2" y1="285.75" x2="372.2" y2="285.75" stroke="#b8b8b8" stroke-width="1.2"/>
<text transform="translate(365.2,290.05) scale(1,1)" font-size="10.8" text-anchor="end" fill="#363636">.2</text>
<line x1="367.2" y1="197" x2="372.2" y2="197" stroke="#b8b8b8" stroke-width="1.2"/>
<text transform="translate(365.2,201.3) scale(1,1)" font-size="10.8" text-anchor="end" fill="#363636">.4</text>
<line x1="367.2" y1="108.25" x2="372.2" y2="108.25" stroke="#b8b8b8" stroke-width="1.2"/>
<text transform="translate(365.2,112.55) scale(1,1)" font-size="10.8" text-anchor="end" fill="#363636">.6</text>
<line x1="367.2" y1="19.5" x2="372.2" y2="19.5" stroke="#b8b8b8" stroke-width="1.2"/>
<text transform="translate(365.2,23.8) scale(1,1)" font-size="10.8" text-anchor="end" fill="#363636">.8</text>
<line x1="372.2" y1="374.5" x2="372.2" y2="379.5" stroke="#b8b8b8" stroke-width="1.2"/>
<text transform="translate(372.2,389.7) scale(1,1)" font-size="10.8" text-anchor="middle" fill="#363636">0</text>
<line x1="398.42" y1="374.5" x2="398.42" y2="379.5" stroke="#b8b8b8" stroke-width="1.2"/>
<text transform="translate(398.42,389.7) scale(1,1)" font-size="10.8" text-anchor="middle" fill="#363636">.1</text>
<line x1="424.64" y1="374.5" x2="424.64" y2="379.5" stroke="#b8b8b8" stroke-width="1.2"/>
<text transform="translate(424.64,389.7) scale(1,1)" font-size="10.8" text-anchor="middle" fill="#363636">.2</text>
<line x1="450.86" y1="374.5" x2="450.86" y2="379.5" stroke="#b8b8b8" stroke-width="1.2"/>
<text transform="translate(450.86,389.7) scale(1,1)" font-size="10.8" text-anchor="middle" fill="#363636">.3</text>
<line x1="477.08" y1="374.5" x2="477.08" y2="379.5" stroke="#b8b8b8" stroke-width="1.2"/>
<text transform="translate(477.08,389.7) scale(1,1)" font-size="10.8" text-anchor="middle" fill="#363636">.4</text>
<line x1="503.3" y1="374.5" x2="503.3" y2="379.5" stroke="#b8b8b8" stroke-width="1.2"/>
<text transform="translate(503.3,389.7) scale(1,1)" font-size="10.8" text-anchor="middle" fill="#363636">.5</text>
<line x1="529.52" y1="374.5" x2="529.52" y2="379.5" stroke="#b8b8b8" stroke-width="1.2"/>
<text transform="translate(529.52,389.7) scale(1,1)" font-size="10.8" text-anchor="middle" fill="#363636">.6</text>
<line x1="555.74" y1="374.5" x2="555.74" y2="379.5" stroke="#b8b8b8" stroke-width="1.2"/>
<text transform="translate(555.74,389.7) scale(1,1)" font-size="10.8" text-anchor="middle" fill="#363636">.7</text>
<line x1="581.96" y1="374.5" x2="581.96" y2="379.5" stroke="#b8b8b8" stroke-width="1.2"/>
<text transform="translate(581.96,389.7) scale(1,1)" font-size="10.8" text-anchor="middle" fill="#363636">.8</text>
<line x1="608.18" y1="374.5" x2="608.18" y2="379.5" stroke="#b8b8b8" stroke-width="1.2"/>
<text transform="translate(608.18,389.7) scale(1,1)" font-size="10.8" text-anchor="middle" fill="#363636">.9</text>
<line x1="634.4" y1="374.5" x2="634.4" y2="379.5" stroke="#b8b8b8" stroke-width="1.2"/>
<text transform="translate(634.4,389.7) scale(1,1)" font-size="10.8" text-anchor="middle" fill="#363636">1</text>
<text transform="translate(480.5,13.2) scale(0.99,1)" font-size="17.2" text-anchor="middle" fill="#2e2e2e">Germany</text>
<text transform="translate(503.3,407.7) scale(0.928,1)" font-size="14.5" text-anchor="middle" fill="#363636">Dissatisfaction with government</text>
<text transform="translate(344.7,197.5) rotate(-90) scale(1.024,1)" font-size="14.5" text-anchor="middle" fill="#363636">Probability of Responsibility Attribution</text>
<text transform="translate(601.5,122) scale(0.925,1)" font-size="13" text-anchor="start" fill="#363636">both</text>
<text transform="translate(601.5,228.2) scale(0.925,1)" font-size="13" text-anchor="start" fill="#363636">PM</text>
<text transform="translate(601.5,312.6) scale(0.925,1)" font-size="13" text-anchor="start" fill="#363636">Junior</text>
<text transform="translate(601.3,357.4) scale(0.925,1)" font-size="13" text-anchor="start" fill="#363636">none</text>
</svg>
</body></html>
